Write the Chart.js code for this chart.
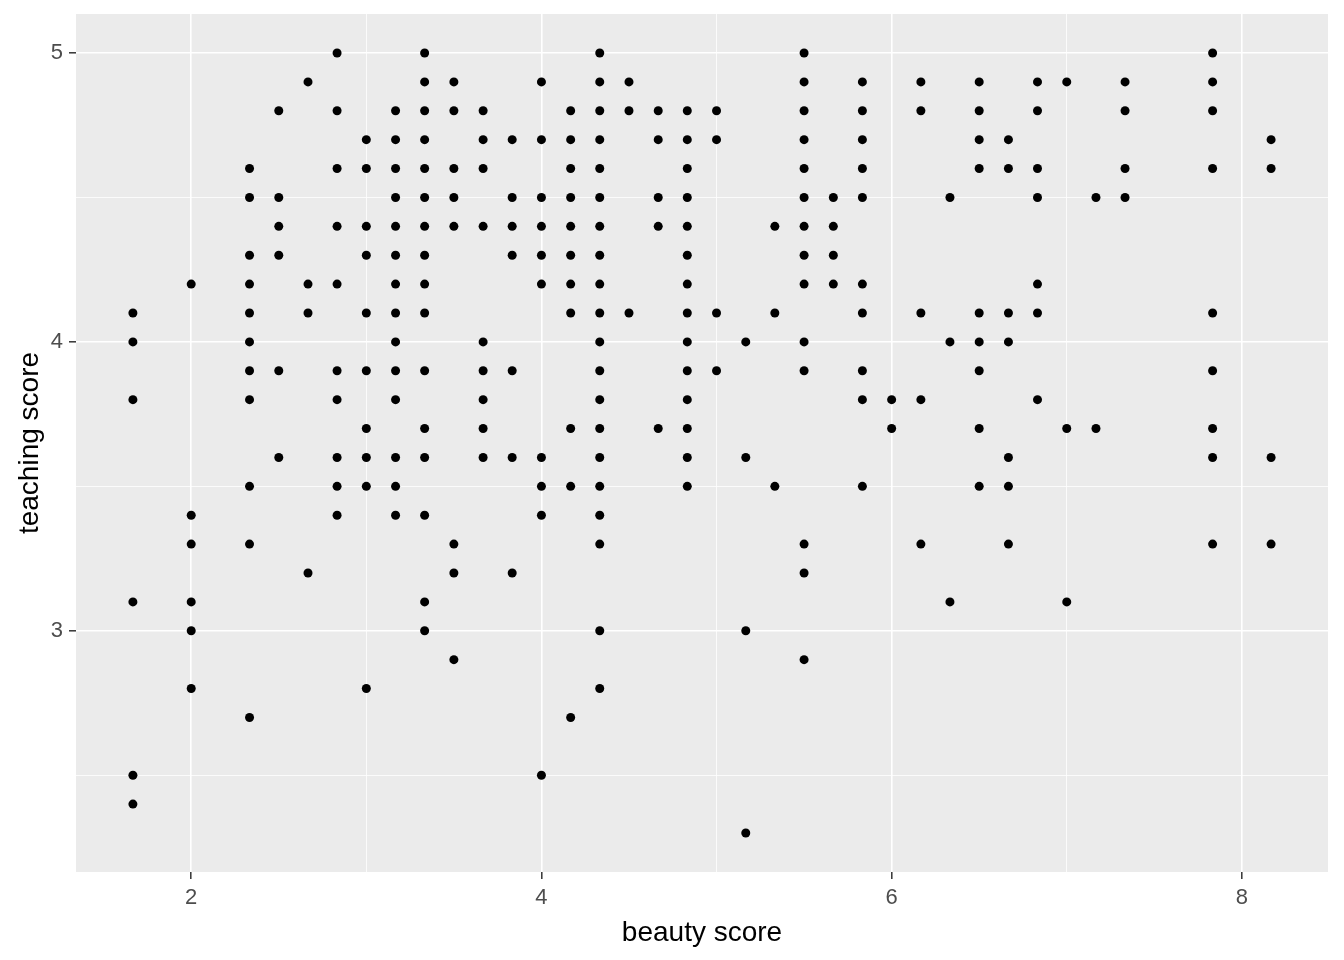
<!DOCTYPE html>
<html>
<head>
<meta charset="utf-8">
<title>teaching vs beauty</title>
<script src="https://cdn.jsdelivr.net/npm/chart.js@4.4.1/dist/chart.umd.min.js"></script>
<style>
  html, body { margin: 0; padding: 0; background: #fff; }
  #wrap { width: 1344px; height: 960px; }
</style>
</head>
<body>
<div id="wrap"><canvas id="myChart" width="1344" height="960"></canvas></div>
<script>
// beauty score levels (x) and the teaching scores found at each level
const beautyLevels = [1.667, 2, 2.333, 2.5, 2.667, 2.833, 3, 3.167, 3.333, 3.5, 3.667, 3.833,
  4, 4.167, 4.333, 4.5, 4.667, 4.833, 5, 5.167, 5.333, 5.5, 5.667, 5.833,
  6, 6.167, 6.333, 6.5, 6.667, 6.833, 7, 7.167, 7.333, 7.833, 8.167];

const teachingScores = [
  [4.1, 4.0, 3.8, 3.1, 2.5, 2.4],
  [4.2, 3.4, 3.3, 3.1, 3.0, 2.8],
  [4.6, 4.5, 4.3, 4.2, 4.1, 4.0, 3.9, 3.8, 3.5, 3.3, 2.7],
  [4.8, 4.5, 4.4, 4.3, 3.9, 3.6],
  [4.9, 4.2, 4.1, 3.2],
  [5.0, 4.8, 4.6, 4.4, 4.2, 3.9, 3.8, 3.6, 3.5, 3.4],
  [4.7, 4.6, 4.4, 4.3, 4.1, 3.9, 3.7, 3.6, 3.5, 2.8],
  [4.8, 4.7, 4.6, 4.5, 4.4, 4.3, 4.2, 4.1, 4.0, 3.9, 3.8, 3.6, 3.5, 3.4],
  [5.0, 4.9, 4.8, 4.7, 4.6, 4.5, 4.4, 4.3, 4.2, 4.1, 3.9, 3.7, 3.6, 3.4, 3.1, 3.0],
  [4.9, 4.8, 4.6, 4.5, 4.4, 3.3, 3.2, 2.9],
  [4.8, 4.7, 4.6, 4.4, 4.0, 3.9, 3.8, 3.7, 3.6],
  [4.7, 4.5, 4.4, 4.3, 3.9, 3.6, 3.2],
  [4.9, 4.7, 4.5, 4.4, 4.3, 4.2, 3.6, 3.5, 3.4, 2.5],
  [4.8, 4.7, 4.6, 4.5, 4.4, 4.3, 4.2, 4.1, 3.7, 3.5, 2.7],
  [5.0, 4.9, 4.8, 4.7, 4.6, 4.5, 4.4, 4.3, 4.2, 4.1, 4.0, 3.9, 3.8, 3.7, 3.6, 3.5, 3.4, 3.3, 3.0, 2.8],
  [4.9, 4.8, 4.1],
  [4.8, 4.7, 4.5, 4.4, 3.7],
  [4.8, 4.7, 4.6, 4.5, 4.4, 4.3, 4.2, 4.1, 4.0, 3.9, 3.8, 3.7, 3.6, 3.5],
  [4.8, 4.7, 4.1, 3.9],
  [4.0, 3.6, 3.0, 2.3],
  [4.4, 4.1, 3.5],
  [5.0, 4.9, 4.8, 4.7, 4.6, 4.5, 4.4, 4.3, 4.2, 4.0, 3.9, 3.3, 3.2, 2.9],
  [4.5, 4.4, 4.3, 4.2],
  [4.9, 4.8, 4.7, 4.6, 4.5, 4.2, 4.1, 3.9, 3.8, 3.5],
  [3.8, 3.7],
  [4.9, 4.8, 4.1, 3.8, 3.3],
  [4.5, 4.0, 3.1],
  [4.9, 4.8, 4.7, 4.6, 4.1, 4.0, 3.9, 3.7, 3.5],
  [4.7, 4.6, 4.1, 4.0, 3.6, 3.5, 3.3],
  [4.9, 4.8, 4.6, 4.5, 4.2, 4.1, 3.8],
  [4.9, 3.7, 3.1],
  [4.5, 3.7],
  [4.9, 4.8, 4.6, 4.5],
  [5.0, 4.9, 4.8, 4.6, 4.1, 3.9, 3.7, 3.6, 3.3],
  [4.7, 4.6, 3.6, 3.3]
];

const xMajorTicks = [2, 4, 6, 8];
const xMinorTicks = [3, 5, 7];
const yMajorTicks = [3, 4, 5];
const yMinorTicks = [2.5, 3.5, 4.5];

const xTitle = 'beauty score';
const yTitle = 'teaching score';

// ggplot style: 5% padding on each side of the data range
const expandRange = (vals) => {
  const lo = Math.min(...vals), hi = Math.max(...vals);
  const pad = (hi - lo) * 0.05;
  return { min: lo - pad, max: hi + pad };
};

const drawScatter = () => {
  const ctx = document.getElementById('myChart').getContext('2d');

  const points = [];
  beautyLevels.forEach((b, i) => {
    teachingScores[i].forEach(t => points.push({ x: b, y: t }));
  });

  const xRange = expandRange(points.map(p => p.x));
  const yRange = expandRange(points.map(p => p.y));

  // grey panel behind the grid
  const panelBg = {
    id: 'panelBg',
    beforeDraw(chart) {
      const { ctx, chartArea: a } = chart;
      ctx.save();
      ctx.fillStyle = '#EBEBEB';
      ctx.fillRect(a.left, a.top, a.right - a.left, a.bottom - a.top);
      ctx.restore();
    }
  };

  const tickFont = { family: '"Liberation Sans", Arial, sans-serif', size: 22 };
  const titleFont = { family: '"Liberation Sans", Arial, sans-serif', size: 28 };

  const gridFor = (major) => ({
    color: '#FFFFFF',
    lineWidth: c => major.includes(c.tick.value) ? 1.6 : 0.8,
    drawTicks: true,
    tickLength: 7,
    tickWidth: 1.5,
    tickColor: c => major.includes(c.tick.value) ? '#333333' : 'rgba(0,0,0,0)'
  });

  new Chart(ctx, {
    type: 'scatter',
    data: {
      datasets: [{
        data: points,
        backgroundColor: '#000000',
        borderWidth: 0,
        pointRadius: 4.5,
        pointHoverRadius: 4.5
      }]
    },
    options: {
      responsive: false,
      animation: false,
      layout: { autoPadding: false, padding: { top: 14, right: 16, bottom: 0, left: 0 } },
      scales: {
        x: {
          type: 'linear',
          min: xRange.min,
          max: xRange.max,
          border: { display: false },
          grid: gridFor(xMajorTicks),
          afterBuildTicks: axis => {
            axis.ticks = [...xMajorTicks, ...xMinorTicks].sort((a, b) => a - b).map(v => ({ value: v }));
          },
          afterFit: axis => {
            axis.height = 88;
            axis.paddingLeft = 0;
            axis.paddingRight = 0;
          },
          ticks: {
            font: tickFont,
            color: '#4D4D4D',
            padding: 6,
            maxRotation: 0,
            autoSkip: false,
            callback: v => xMajorTicks.includes(v) ? String(v) : ''
          },
          title: {
            display: true,
            text: xTitle,
            font: titleFont,
            color: '#000000',
            padding: { top: 0, bottom: 10 }
          }
        },
        y: {
          type: 'linear',
          min: yRange.min,
          max: yRange.max,
          border: { display: false },
          grid: gridFor(yMajorTicks),
          afterBuildTicks: axis => {
            axis.ticks = [...yMajorTicks, ...yMinorTicks].sort((a, b) => a - b).map(v => ({ value: v }));
          },
          afterFit: axis => {
            axis.width = 76;
            // labels sit well inside the panel, no need for end padding
            axis.paddingTop = 0;
            axis.paddingBottom = 0;
          },
          ticks: {
            font: tickFont,
            color: '#4D4D4D',
            padding: 6,
            autoSkip: false,
            callback: v => yMajorTicks.includes(v) ? String(v) : ''
          },
          title: {
            display: true,
            text: yTitle,
            font: titleFont,
            color: '#000000',
            padding: { top: 13, bottom: 0 }
          }
        }
      },
      plugins: {
        legend: { display: false },
        tooltip: { enabled: false }
      }
    },
    plugins: [panelBg]
  });
};

document.addEventListener('DOMContentLoaded', () => {
  drawScatter();
});
</script>
</body>
</html>
